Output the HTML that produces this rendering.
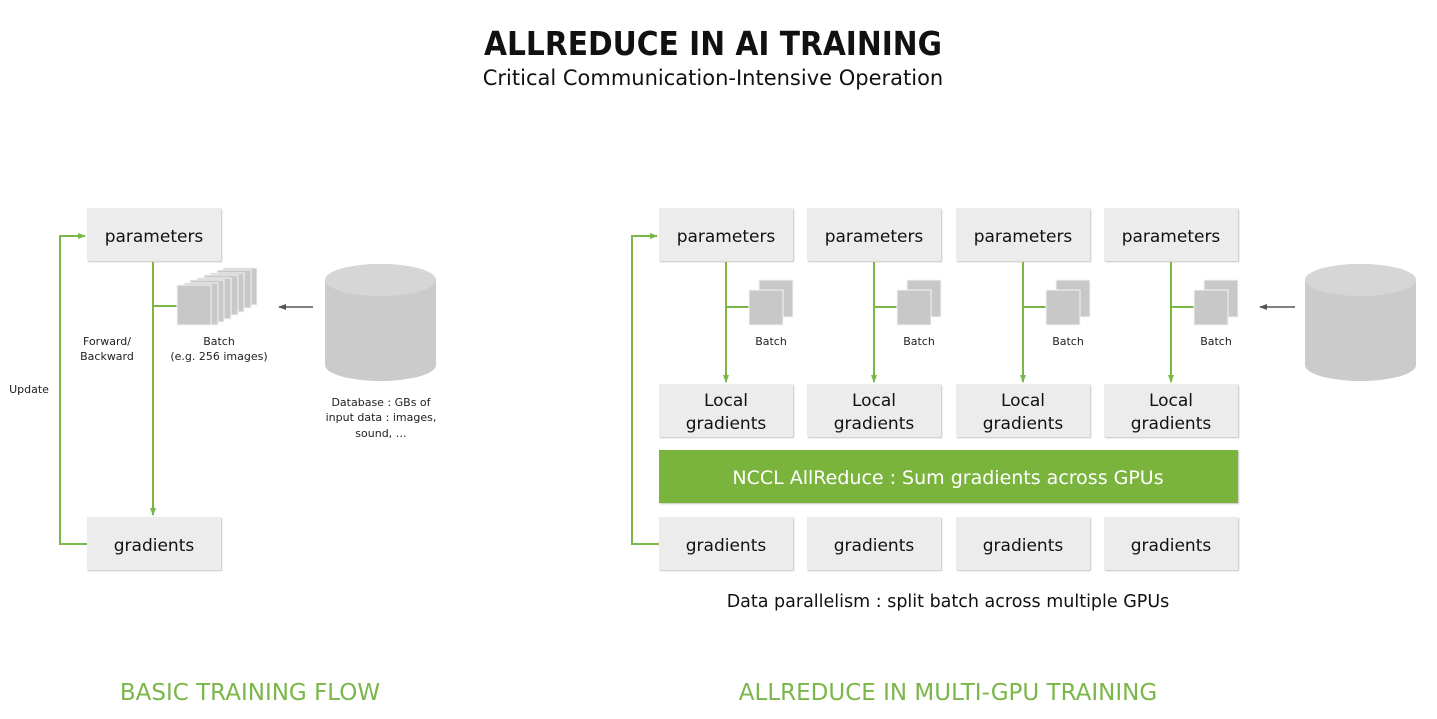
<!DOCTYPE html>
<html><head><style>
body{margin:0;width:1437px;height:715px;background:#fff;overflow:hidden;font-family:"DejaVu Sans","Liberation Sans",sans-serif;}
</style></head><body>
<svg width="1437" height="715" viewBox="0 0 1437 715" xmlns="http://www.w3.org/2000/svg" font-family="DejaVu Sans, Liberation Sans, sans-serif">
<defs>
<marker id="ag" markerWidth="8" markerHeight="8" refX="7" refY="4" orient="auto" markerUnits="userSpaceOnUse"><path d="M0,1 L8,4 L0,7z" fill="#7ab648"/></marker>
<marker id="ak" markerWidth="8" markerHeight="8" refX="7" refY="4" orient="auto" markerUnits="userSpaceOnUse"><path d="M0,1 L8,4 L0,7z" fill="#555"/></marker>
<filter id="sh"><feDropShadow dx="1" dy="1" stdDeviation="0.8" flood-color="#999" flood-opacity="0.6"/></filter>
</defs>
<text x="713" y="55" text-anchor="middle" font-size="33" font-weight="bold" fill="#111" font-family="DejaVu Sans Condensed, DejaVu Sans, sans-serif">ALLREDUCE IN AI TRAINING</text>
<text x="713" y="85" text-anchor="middle" font-size="21" fill="#111">Critical Communication-Intensive Operation</text>

<!-- left -->
<g fill="none" stroke="#7ab648" stroke-width="2">
<path d="M87,544 H60 V236 H85" marker-end="url(#ag)"/>
<path d="M153,262 V515" marker-end="url(#ag)"/>
<path d="M153,306 H177"/>
</g>
<rect x="87" y="208" width="134" height="53" fill="#ececec" filter="url(#sh)"/>
<text x="154" y="242" text-anchor="middle" font-size="17" fill="#111">parameters</text>
<rect x="87" y="517" width="134" height="53" fill="#ececec" filter="url(#sh)"/>
<text x="154" y="551" text-anchor="middle" font-size="17" fill="#111">gradients</text>
<g fill="#c8c8c8" stroke="#f4f4f4" stroke-width="1">
<rect x="223" y="268" width="34" height="37"/>
<rect x="217" y="270" width="34" height="38"/>
<rect x="210" y="273" width="34" height="39"/>
<rect x="204" y="275" width="34" height="40"/>
<rect x="197" y="278" width="34" height="41"/>
<rect x="190" y="280" width="34" height="42"/>
<rect x="184" y="283" width="34" height="42"/>
<rect x="177" y="285" width="34" height="40"/>
</g>
<text x="219" y="345" text-anchor="middle" font-size="11" fill="#222">Batch</text>
<text x="219" y="360" text-anchor="middle" font-size="11" fill="#222">(e.g. 256 images)</text>
<text x="107" y="345" text-anchor="middle" font-size="11" fill="#222">Forward/</text>
<text x="107" y="360" text-anchor="middle" font-size="11" fill="#222">Backward</text>
<text x="29" y="393" text-anchor="middle" font-size="11" fill="#222">Update</text>
<path d="M313,307 H279" stroke="#555" stroke-width="1.5" marker-end="url(#ak)"/>
<path d="M325,280 A55.5,16 0 0 1 436,280 V365 A55.5,16 0 0 1 325,365 Z" fill="#cbcbcb"/>
<ellipse cx="380.5" cy="280" rx="55.5" ry="16" fill="#d6d6d6"/>
<text x="381" y="406" text-anchor="middle" font-size="11" fill="#222">Database : GBs of</text>
<text x="381" y="421" text-anchor="middle" font-size="11" fill="#222">input data : images,</text>
<text x="381" y="437" text-anchor="middle" font-size="11" fill="#222">sound, …</text>
<text x="250" y="700" text-anchor="middle" font-size="23" fill="#7ab648">BASIC TRAINING FLOW</text>

<!-- right -->
<path d="M659,544 H632 V236 H657" fill="none" stroke="#7ab648" stroke-width="2" marker-end="url(#ag)"/>
<g id="col">
<path d="M726,262 V382" fill="none" stroke="#7ab648" stroke-width="2" marker-end="url(#ag)"/>
<path d="M726,307 H749" stroke="#7ab648" stroke-width="2"/>
<rect x="659" y="208" width="134" height="53" fill="#ececec" filter="url(#sh)"/>
<text x="726" y="242" text-anchor="middle" font-size="17" fill="#111">parameters</text>
<rect x="759" y="280" width="34" height="37" fill="#c8c8c8" stroke="#f4f4f4"/>
<rect x="749" y="290" width="34" height="35" fill="#c8c8c8" stroke="#f4f4f4"/>
<text x="771" y="345" text-anchor="middle" font-size="11" fill="#222">Batch</text>
<rect x="659" y="384" width="134" height="53" fill="#ececec" filter="url(#sh)"/>
<text x="726" y="406" text-anchor="middle" font-size="17" fill="#111">Local</text>
<text x="726" y="429" text-anchor="middle" font-size="17" fill="#111">gradients</text>
<rect x="659" y="517" width="134" height="53" fill="#ececec" filter="url(#sh)"/>
<text x="726" y="551" text-anchor="middle" font-size="17" fill="#111">gradients</text>
</g>
<use href="#col" x="148"/>
<use href="#col" x="297"/>
<use href="#col" x="445"/>
<rect x="659" y="450" width="579" height="53" fill="#7ab43c" filter="url(#sh)"/>
<text x="948" y="484" text-anchor="middle" font-size="19" fill="#fff">NCCL AllReduce : Sum gradients across GPUs</text>
<text x="948" y="607" text-anchor="middle" font-size="17.5" fill="#111">Data parallelism : split batch across multiple GPUs</text>
<path d="M1295,307 H1260" stroke="#555" stroke-width="1.5" marker-end="url(#ak)"/>
<path d="M1305,280 A55.5,16 0 0 1 1416,280 V365 A55.5,16 0 0 1 1305,365 Z" fill="#cbcbcb"/>
<ellipse cx="1360.5" cy="280" rx="55.5" ry="16" fill="#d6d6d6"/>
<text x="948" y="700" text-anchor="middle" font-size="23" fill="#7ab648">ALLREDUCE IN MULTI-GPU TRAINING</text>
</svg>
</body></html>
